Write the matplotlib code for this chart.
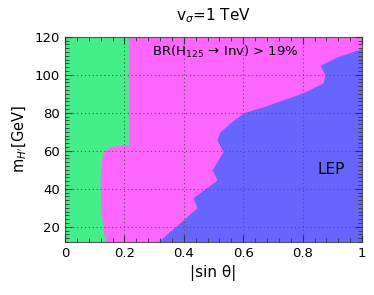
# excluded regions in the (|sin theta|, m_H') plane for v_sigma = 1 TeV
import numpy as np
import matplotlib.pyplot as plt
from matplotlib.ticker import MultipleLocator, FuncFormatter

# green / magenta boundary (x as function of m_H')
green_m = [12, 18.4, 29, 44.7, 55.3, 59.6, 62.3, 63.2, 120]
green_x = [0.135, 0.129, 0.120, 0.118, 0.123, 0.129, 0.152, 0.213, 0.213]

# magenta / blue (LEP) boundary
lep_x = [0.313, 0.444, 0.431, 0.512, 0.495, 0.532, 0.511, 0.522, 0.556,
         0.600, 0.667, 0.800, 0.869, 0.875, 0.859, 0.916, 0.983, 1.0]
lep_m = [12, 30, 35.3, 44.7, 50, 59.5, 65.8, 70, 74.7,
         80, 83.2, 90.5, 95.8, 100, 105, 109.5, 113, 114]

fig = plt.figure(figsize=(3.74, 2.95), dpi=100)
ax = fig.add_axes([0.174, 0.180, 0.794, 0.695])

ax.set_facecolor("#ff66ff")
ax.fill_betweenx(green_m, 0, green_x, color="#44ee88", lw=0)
ax.fill_between(lep_x + [1.0], lep_m + [12], 12, color="#6666ff", lw=0)

ax.set_xlim(0, 1)
ax.set_ylim(12, 120)
ax.xaxis.set_major_locator(MultipleLocator(0.2))
ax.xaxis.set_minor_locator(MultipleLocator(0.04))
ax.yaxis.set_major_locator(MultipleLocator(20))
ax.yaxis.set_minor_locator(MultipleLocator(2))
ax.xaxis.set_major_formatter(FuncFormatter(lambda v, p: f"{v:g}"))
ax.tick_params(which="both", direction="in", top=True, right=True,
               labelsize=9.5, color="#333333")
ax.tick_params(which="major", length=5)
ax.tick_params(which="minor", length=3)
for s in ax.spines.values():
    s.set_color("#555555")
ax.grid(True, which="major", linestyle=(0, (1, 2.5)), color="#555555", lw=0.8, zorder=5)
ax.set_axisbelow(False)

ax.text(0.54, 112, r"BR(H$_{125}$ → Inv) > 19%", ha="center", va="center", fontsize=9.5)
ax.text(0.895, 50, "LEP", ha="center", va="center", fontsize=11)

ax.set_xlabel(r"|sin θ|", fontsize=11)
ax.set_ylabel(r"m$_{H'}$[GeV]", fontsize=10.5)
ax.set_title(r"v$_{\sigma}$=1 TeV", fontsize=11, pad=12)

fig.savefig("out.png", dpi=100)
